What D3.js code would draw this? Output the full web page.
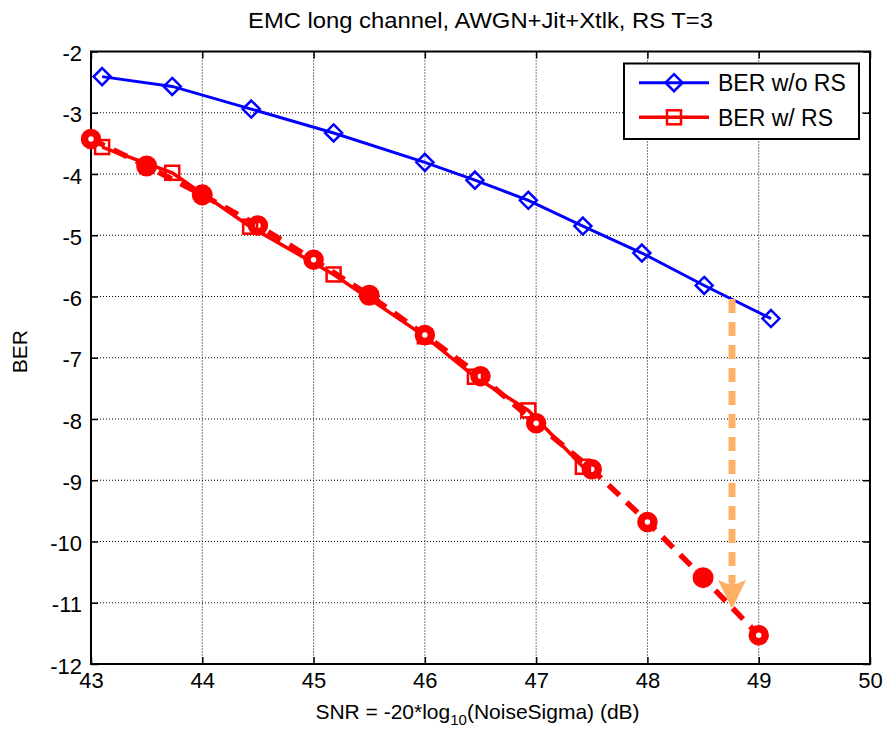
<!DOCTYPE html>
<html><head><meta charset="utf-8">
<script src="https://cdn.jsdelivr.net/npm/d3@7"></script>
<style>
html,body{margin:0;padding:0;background:#fff;}
svg{display:block;font-family:"Liberation Sans",Arial,Helvetica,sans-serif;}
</style></head>
<body><svg id="c" width="883" height="729"></svg>
<script>
// ---- data ----
const titleText = "EMC long channel, AWGN+Jit+Xtlk, RS T=3";
const xTicks = [43, 44, 45, 46, 47, 48, 49, 50];
const yTicks = [-2, -3, -4, -5, -6, -7, -8, -9, -10, -11, -12];
const noRsSNR = [43.1, 43.73, 44.44, 45.18, 46.0, 46.45, 46.93, 47.42, 47.95, 48.51, 49.11];
const noRsBER = [-2.41, -2.57, -2.94, -3.33, -3.81, -4.10, -4.43, -4.85, -5.29, -5.82, -6.36];
const rsSNR = [43.1, 43.73, 44.43, 45.18, 46.0, 46.45, 46.93, 47.42];
const rsBER = [-3.56, -3.98, -4.86, -5.64, -6.65, -7.31, -7.86, -8.78];
const extSNR = [43, 43.5, 44, 44.5, 45, 45.5, 46, 46.5, 47, 47.5, 48, 48.5, 49];
const extBER = [-3.43, -3.87, -4.34, -4.84, -5.40, -5.98, -6.63, -7.30, -8.07, -8.82, -9.68, -10.59, -11.53];
const extFilled = [false, true, true, false, false, true, false, false, false, false, false, true, false];
const arrowSNR = [48.76];
const arrowBER = [-6.04, -11.07];
const legendLabels = ["BER w/o RS", "BER w/ RS"];

// ---- layout ----
const svg = d3.select("#c");
const L = 91, R = 870, T = 51.5, B = 664;
const x = d3.scaleLinear().domain([43, 50]).range([L, R]);
const y = d3.scaleLinear().domain([-12, -2]).range([B, T]);
const BLUE = "#0000ff", RED = "#ff0000", ORANGE = "#ffb064";

// grid
const g = svg.append("g");
g.selectAll(".gx").data(xTicks.filter(v => v > 43 && v < 50)).enter().append("line")
  .attr("x1", d => x(d)).attr("x2", d => x(d)).attr("y1", T).attr("y2", B)
  .attr("stroke", "#000").attr("stroke-width", 1).attr("stroke-dasharray", "1,2");
g.selectAll(".gy").data(yTicks.filter(v => v < -2 && v > -12)).enter().append("line")
  .attr("y1", d => y(d)).attr("y2", d => y(d)).attr("x1", L).attr("x2", R)
  .attr("stroke", "#000").attr("stroke-width", 1).attr("stroke-dasharray", "1,2");

// axes
const xAxis = d3.axisBottom(x).tickValues(xTicks).tickSize(-7).tickPadding(8.5).tickFormat(d3.format("d"));
const yAxis = d3.axisLeft(y).tickValues(yTicks).tickSize(-7).tickPadding(9).tickFormat(d => d < 0 ? "-" + Math.abs(d) : d);
const xTop = d3.axisTop(x).tickValues(xTicks).tickSize(-7).tickFormat("");
const yRight = d3.axisRight(y).tickValues(yTicks).tickSize(-7).tickFormat("");
function style(sel) {
  sel.select(".domain").remove();
  sel.selectAll(".tick line").attr("stroke", "#000").attr("stroke-width", 1.5);
  sel.selectAll(".tick text").attr("fill", "#000").style("font-size", "22px");
}
svg.append("g").attr("transform", `translate(0,${B})`).call(xAxis).call(style);
svg.append("g").attr("transform", `translate(${L},2)`).call(yAxis).call(style)
  .selectAll(".tick line").attr("transform", "translate(0,-2)");
svg.append("g").attr("transform", `translate(0,${T})`).call(xTop).call(style);
svg.append("g").attr("transform", `translate(${R},0)`).call(yRight).call(style);
svg.selectAll(".tick text").attr("font-family", null);
svg.append("rect").attr("x", L).attr("y", T).attr("width", R - L).attr("height", B - T)
  .attr("fill", "none").attr("stroke", "#000").attr("stroke-width", 2);

const plot = svg.append("g");
const line = d3.line().x(d => x(d[0])).y(d => y(d[1]));

// dashed extrapolation red
const ext = extSNR.map((v, i) => [v, extBER[i]]);
plot.append("path").datum(ext).attr("d", line).attr("fill", "none")
  .attr("stroke", RED).attr("stroke-width", 5.5).attr("stroke-dasharray", "15,10");

// red solid with squares
const rs = rsSNR.map((v, i) => [v, rsBER[i]]);
plot.append("path").datum(rs).attr("d", line).attr("fill", "none")
  .attr("stroke", RED).attr("stroke-width", 3.5);

// circles
plot.selectAll(".ec").data(ext).enter().append("circle")
  .attr("cx", d => x(d[0])).attr("cy", d => y(d[1]))
  .attr("r", (d, i) => extFilled[i] ? 10.5 : 6.5)
  .attr("fill", (d, i) => extFilled[i] ? RED : "#fff")
  .attr("stroke", RED).attr("stroke-width", (d, i) => extFilled[i] ? 0 : 7.5);

plot.selectAll(".sq").data(rs).enter().append("rect")
  .attr("x", d => x(d[0]) - 7).attr("y", d => y(d[1]) - 7)
  .attr("width", 14).attr("height", 14)
  .attr("fill", "none").attr("stroke", RED).attr("stroke-width", 2.5);

// blue
const nr = noRsSNR.map((v, i) => [v, noRsBER[i]]);
plot.append("path").datum(nr).attr("d", line).attr("fill", "none")
  .attr("stroke", BLUE).attr("stroke-width", 3);
const diamond = "M0,-8.5L8.5,0L0,8.5L-8.5,0Z";
plot.selectAll(".dm").data(nr).enter().append("path")
  .attr("d", diamond).attr("transform", d => `translate(${x(d[0])},${y(d[1])})`)
  .attr("fill", "none").attr("stroke", BLUE).attr("stroke-width", 2.5);

// orange arrow
const ax = x(arrowSNR[0]), ay0 = y(arrowBER[0]), ay1 = y(arrowBER[1]);
plot.append("line").attr("x1", ax).attr("x2", ax).attr("y1", ay0).attr("y2", ay1 - 24)
  .attr("stroke", ORANGE).attr("stroke-width", 7).attr("stroke-dasharray", "14,9");
plot.append("path")
  .attr("d", `M${ax - 14},${ay1 - 27} L${ax - 4},${ay1 - 23} L${ax},${ay1 - 25} L${ax + 4},${ay1 - 23} L${ax + 14},${ay1 - 27} L${ax + 1},${ay1} L${ax - 1},${ay1} Z`)
  .attr("fill", ORANGE);

// title & labels
svg.append("text").attr("x", (L + R) / 2).attr("y", 28).attr("text-anchor", "middle")
  .style("font-size", "22px").attr("textLength", 465).attr("lengthAdjust", "spacingAndGlyphs")
  .text(titleText);
const xl = svg.append("text").attr("x", (L + R) / 2 - 3).attr("y", 719).attr("text-anchor", "middle")
  .style("font-size", "21px");
xl.append("tspan").text("SNR = -20*log");
xl.append("tspan").attr("dy", 6).style("font-size", "15px").text("10");
xl.append("tspan").attr("dy", -6).text("(NoiseSigma) (dB)");
svg.append("text").attr("transform", `translate(27,${(T + B) / 2 - 6}) rotate(-90)`)
  .attr("text-anchor", "middle").style("font-size", "21px").text("BER");

// legend
const lg = svg.append("g");
lg.append("rect").attr("x", 624).attr("y", 63.5).attr("width", 235).attr("height", 75.5)
  .attr("fill", "#fff").attr("stroke", "#000").attr("stroke-width", 2);
const rowsY = [82.7, 117.3];
const cols = [BLUE, RED];
rowsY.forEach((ry, i) => {
  lg.append("line").attr("x1", 639).attr("x2", 709).attr("y1", ry).attr("y2", ry)
    .attr("stroke", cols[i]).attr("stroke-width", i === 0 ? 3 : 3.5);
  if (i === 0) {
    lg.append("path").attr("d", diamond).attr("transform", `translate(674,${ry})`)
      .attr("fill", "none").attr("stroke", BLUE).attr("stroke-width", 2.5);
  } else {
    lg.append("rect").attr("x", 667).attr("y", ry - 7).attr("width", 14).attr("height", 14)
      .attr("fill", "none").attr("stroke", RED).attr("stroke-width", 2.5);
  }
  lg.append("text").attr("x", 718).attr("y", ry + 8.5).style("font-size", "23px")
    .text(legendLabels[i]);
});
</script></body></html>
